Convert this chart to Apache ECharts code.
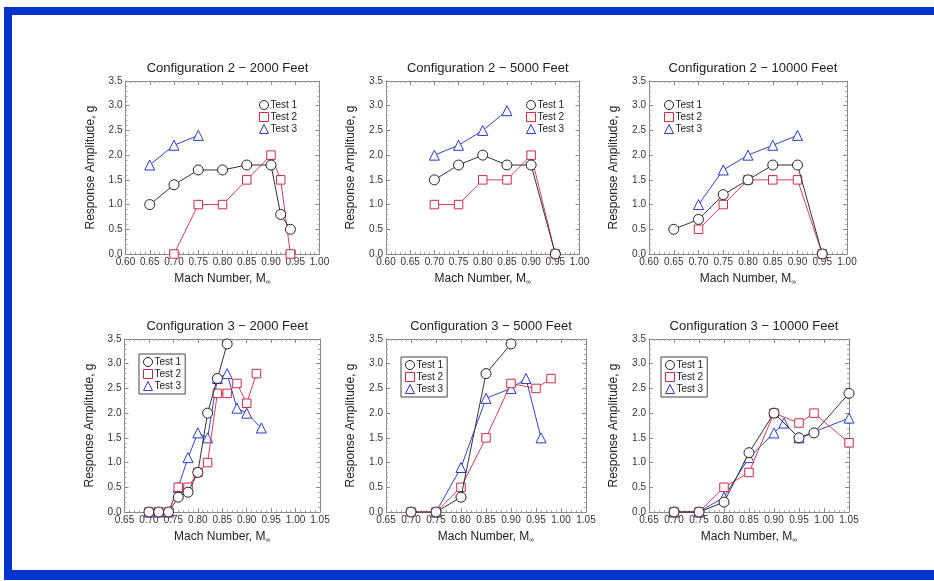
<!DOCTYPE html>
<html><head><meta charset="utf-8">
<script src="https://cdn.jsdelivr.net/npm/echarts@6/dist/echarts.min.js"></script>
<style>
html,body{margin:0;padding:0;background:#fff;}
#frame{position:absolute;left:4px;top:7px;width:930px;height:573px;border-left:8px solid #0033cc;border-top:8px solid #0033cc;border-bottom:10px solid #0033cc;box-sizing:border-box;}
#chart{position:absolute;left:0;top:0;width:934px;height:581px;}
</style></head><body>
<div id="frame"></div><div id="chart"></div>
<script>
// ---------- data ----------
const panelTitles = [
  'Configuration 2 \u2212 2000 Feet', 'Configuration 2 \u2212 5000 Feet', 'Configuration 2 \u2212 10000 Feet',
  'Configuration 3 \u2212 2000 Feet', 'Configuration 3 \u2212 5000 Feet', 'Configuration 3 \u2212 10000 Feet'
];
const testNames = ['Test 1', 'Test 2', 'Test 3'];
const xRangeTop = [0.60, 1.00];
const xRangeBottom = [0.65, 1.05];
const yRange = [0, 3.5];

// Configuration 2 - 2000 ft
const c2_2000_t1 = [[0.65,1.0],[0.70,1.4],[0.75,1.7],[0.80,1.7],[0.85,1.8],[0.90,1.8],[0.92,0.8],[0.94,0.5]];
const c2_2000_t2 = [[0.70,0.0],[0.75,1.0],[0.80,1.0],[0.85,1.5],[0.90,2.0],[0.92,1.5],[0.94,0.0]];
const c2_2000_t3 = [[0.65,1.8],[0.70,2.2],[0.75,2.4]];
// Configuration 2 - 5000 ft
const c2_5000_t1 = [[0.70,1.5],[0.75,1.8],[0.80,2.0],[0.85,1.8],[0.90,1.8],[0.95,0.0]];
const c2_5000_t2 = [[0.70,1.0],[0.75,1.0],[0.80,1.5],[0.85,1.5],[0.90,2.0],[0.95,0.0]];
const c2_5000_t3 = [[0.70,2.0],[0.75,2.2],[0.80,2.5],[0.85,2.9]];
// Configuration 2 - 10000 ft
const c2_10000_t1 = [[0.65,0.5],[0.70,0.7],[0.75,1.2],[0.80,1.5],[0.85,1.8],[0.90,1.8],[0.95,0.0]];
const c2_10000_t2 = [[0.70,0.5],[0.75,1.0],[0.80,1.5],[0.85,1.5],[0.90,1.5],[0.95,0.0]];
const c2_10000_t3 = [[0.70,1.0],[0.75,1.7],[0.80,2.0],[0.85,2.2],[0.90,2.4]];
// Configuration 3 - 2000 ft
const c3_2000_t1 = [[0.70,0.0],[0.72,0.0],[0.74,0.0],[0.76,0.3],[0.78,0.4],[0.80,0.8],[0.82,2.0],[0.84,2.7],[0.86,3.4]];
const c3_2000_t2 = [[0.70,0.0],[0.72,0.0],[0.74,0.0],[0.76,0.5],[0.78,0.5],[0.80,0.8],[0.82,1.0],[0.84,2.4],[0.86,2.4],[0.88,2.6],[0.90,2.2],[0.92,2.8]];
const c3_2000_t3 = [[0.70,0.0],[0.72,0.0],[0.74,0.0],[0.76,0.5],[0.78,1.1],[0.80,1.6],[0.82,1.5],[0.84,2.7],[0.86,2.8],[0.88,2.1],[0.90,2.0],[0.93,1.7]];
// Configuration 3 - 5000 ft
const c3_5000_t1 = [[0.70,0.0],[0.75,0.0],[0.80,0.3],[0.85,2.8],[0.90,3.4]];
const c3_5000_t2 = [[0.70,0.0],[0.75,0.0],[0.80,0.5],[0.85,1.5],[0.90,2.6],[0.95,2.5],[0.98,2.7]];
const c3_5000_t3 = [[0.75,0.0],[0.80,0.9],[0.85,2.3],[0.90,2.5],[0.93,2.7],[0.96,1.5]];
// Configuration 3 - 10000 ft
const c3_10000_t1 = [[0.70,0.0],[0.75,0.0],[0.80,0.2],[0.85,1.2],[0.90,2.0],[0.95,1.5],[0.98,1.6],[1.05,2.4]];
const c3_10000_t2 = [[0.70,0.0],[0.75,0.0],[0.80,0.5],[0.85,0.8],[0.90,2.0],[0.95,1.8],[0.98,2.0],[1.05,1.4]];
const c3_10000_t3 = [[0.70,0.0],[0.75,0.0],[0.80,0.3],[0.85,1.1],[0.90,1.6],[0.92,1.8],[0.95,1.5],[1.05,1.9]];

const panelData = [
  [c2_2000_t1, c2_2000_t2, c2_2000_t3],
  [c2_5000_t1, c2_5000_t2, c2_5000_t3],
  [c2_10000_t1, c2_10000_t2, c2_10000_t3],
  [c3_2000_t1, c3_2000_t2, c3_2000_t3],
  [c3_5000_t1, c3_5000_t2, c3_5000_t3],
  [c3_10000_t1, c3_10000_t2, c3_10000_t3]
];

// ---------- layout / style ----------
const FONT = 'Liberation Sans, Arial, sans-serif';
const grids = [
  {left:125.5, top:81, width:194, height:173},
  {left:386, top:81, width:193.5, height:173},
  {left:649, top:81, width:198, height:173},
  {left:124.5, top:339, width:195.5, height:173},
  {left:386, top:339, width:200, height:173},
  {left:649, top:339, width:200, height:173}
];
const testColors = ['#222222', '#cc2a4a', '#2a3cc0'];
const testLineColors = ['#333333', '#d0405c', '#3344c4'];
const testSymbols = ['circle', 'rect', 'triangle'];
const testSizes = [10, 8.5, 10];
const legendPos = [
  {left:257, top:98, border:false},
  {left:524, top:98, border:false},
  {left:662, top:98, border:false},
  {left:139, top:354, border:true},
  {left:401, top:357, border:true},
  {left:661, top:357, border:true}
];

const xAxes = [], yAxes = [], series = [], titles = [], legends = [];
grids.forEach((g, i) => {
  const xr = i < 3 ? xRangeTop : xRangeBottom;
  const axisLine = {show:true, onZero:false, lineStyle:{color:'#8a8a8a', width:1}};
  const tick = {show:true, inside:true, length:4, lineStyle:{color:'#8a8a8a'}};
  const minor = {show:true, splitNumber:5, length:2, lineStyle:{color:'#a8a8a8'}};
  [false, true].forEach(top => {
    xAxes.push({
      type:'value', gridIndex:i, position: top ? 'top' : 'bottom',
      min:xr[0], max:xr[1], interval:0.05,
      axisLine, axisTick:tick, minorTick:minor, splitLine:{show:false},
      axisLabel:{show:!top, color:'#333', fontSize:10, fontFamily:FONT, margin:3, formatter:v => v.toFixed(2)},
      name: top ? '' : '{a|Mach Number, M}{b|\u221e}',
      nameLocation:'middle', nameGap:17,
      nameTextStyle:{rich:{a:{fontSize:12, fontFamily:FONT, color:'#222'}, b:{fontSize:7, fontFamily:FONT, color:'#222', padding:[8,0,0,0]}}}
    });
    yAxes.push({
      type:'value', gridIndex:i, position: top ? 'right' : 'left',
      min:yRange[0], max:yRange[1], interval:0.5,
      axisLine, axisTick:tick, minorTick:minor, splitLine:{show:false},
      axisLabel:{show:!top, color:'#333', fontSize:10, fontFamily:FONT, margin:3, formatter:v => v.toFixed(1)},
      name: top ? '' : 'Response Amplitude, g',
      nameLocation:'middle', nameGap:29,
      nameTextStyle:{fontSize:12, fontFamily:FONT, color:'#222'}
    });
  });
  titles.push({
    text: panelTitles[i], left: g.left + g.width/2, top: g.top - 24, textAlign:'center',
    textStyle:{fontSize:13, fontWeight:'normal', fontFamily:FONT, color:'#222'}
  });
  panelData[i].forEach((d, k) => {
    series.push({
      type:'line', name:testNames[k], xAxisIndex:2*i, yAxisIndex:2*i, data:d,
      symbol:testSymbols[k], symbolSize:testSizes[k], clip:false,
      lineStyle:{color:testLineColors[k], width:1},
      itemStyle:{color:'#ffffff', borderColor:testColors[k], borderWidth:1},
      z: 3 - k
    });
  });
  const lp = legendPos[i];
  legends.push({
    orient:'vertical', left:lp.left, top:lp.top,
    itemWidth:9, itemHeight:9, itemGap:2,
    padding: lp.border ? [3,4,3,4] : [2,2,2,2],
    borderColor: lp.border ? '#444' : 'transparent', borderWidth: lp.border ? 1 : 0,
    textStyle:{fontSize:10, fontFamily:FONT, color:'#222', padding:[0,0,0,-3]},
    selectedMode:false,
    data: testNames.map((n, k) => ({name:n, icon:testSymbols[k],
      itemStyle:{color:'#ffffff', borderColor:testColors[k], borderWidth:1}}))
  });
});

const chart = echarts.init(document.getElementById('chart'), null, {renderer:'canvas'});
chart.setOption({
  animation:false,
  backgroundColor:'transparent',
  title: titles,
  legend: legends,
  grid: grids.map(g => Object.assign({containLabel:false}, g)),
  xAxis: xAxes,
  yAxis: yAxes,
  series: series
});
</script>
</body></html>
